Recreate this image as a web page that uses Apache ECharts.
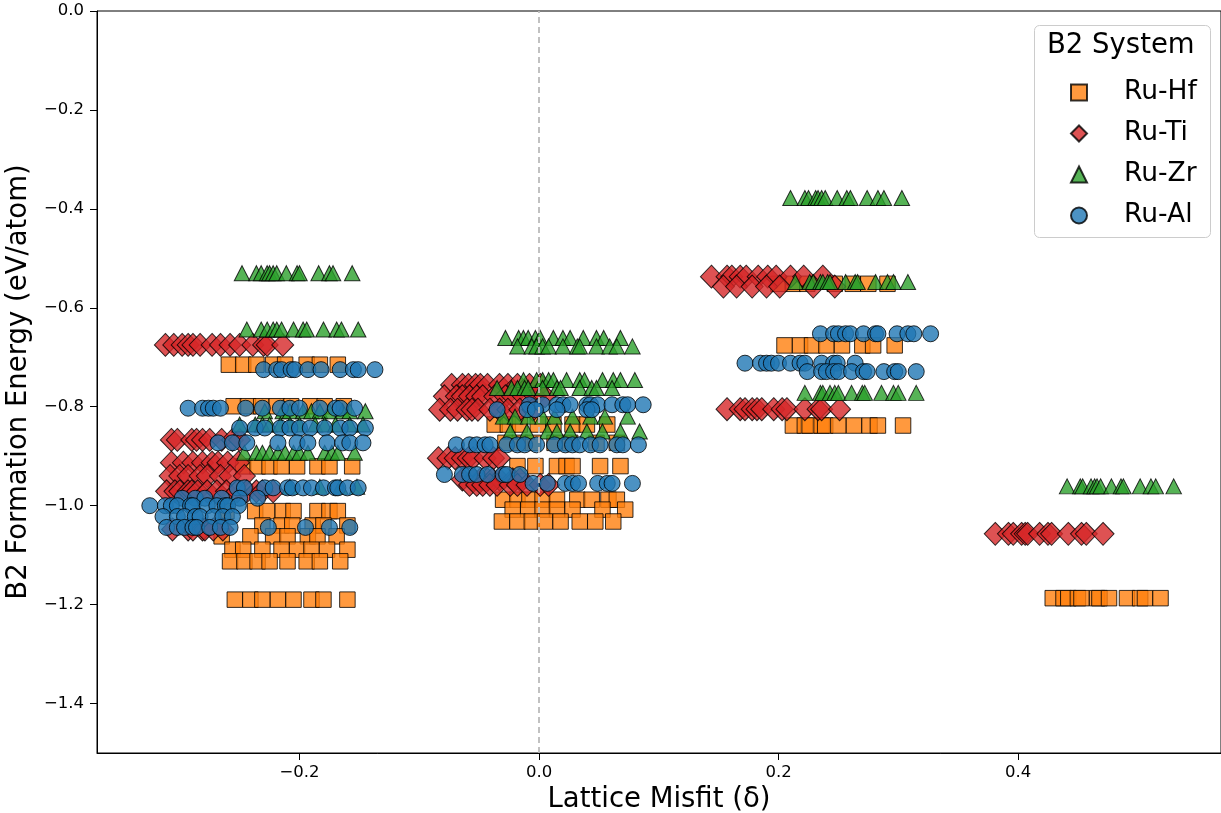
<!DOCTYPE html>
<html>
<head>
<meta charset="utf-8">
<script src="https://cdn.jsdelivr.net/npm/echarts@6/dist/echarts.min.js"></script>
<style>html,body{margin:0;padding:0;background:#fff}#c{width:1221px;height:813px}</style>
</head>
<body>
<div id="c"></div>
<script>
// Each row: [formation energy, [lattice misfits...]]
const ruHf = [
  [-0.5515, [0.200, 0.212, 0.224, 0.247, 0.262, 0.275, 0.291]],
  [-0.676, [0.205, 0.218, 0.228, 0.240, 0.253, 0.270, 0.279, 0.297]],
  [-0.838, [0.212, 0.222, 0.226, 0.236, 0.239, 0.250, 0.263, 0.276, 0.283, 0.304]],
  [-1.187, [0.429, 0.438, 0.442, 0.450, 0.453, 0.466, 0.468, 0.476, 0.491, 0.502, 0.506, 0.519]],
  [-0.715, [-0.259, -0.247, -0.236, -0.222, -0.212, -0.194, -0.183, -0.168]],
  [-0.799, [-0.255, -0.243, -0.232, -0.219, -0.207, -0.191, -0.179, -0.163]],
  [-0.9205, [-0.247, -0.235, -0.225, -0.215, -0.202, -0.185, -0.175, -0.156]],
  [-1.011, [-0.261, -0.237, -0.227, -0.214, -0.205, -0.185, -0.175, -0.168]],
  [-1.04, [-0.231, -0.215, -0.206, -0.189, -0.180, -0.160]],
  [-1.062, [-0.265, -0.241, -0.222, -0.210, -0.193, -0.185, -0.169]],
  [-1.089, [-0.256, -0.247, -0.231, -0.215, -0.202, -0.190, -0.177, -0.160]],
  [-1.1125, [-0.258, -0.246, -0.235, -0.225, -0.210, -0.194, -0.183, -0.166]],
  [-1.19, [-0.254, -0.241, -0.231, -0.218, -0.205, -0.190, -0.180, -0.160]],
  [-0.836, [-0.037, -0.026, -0.016, -0.001, 0.012, 0.028, 0.040, 0.057]],
  [-0.873, [-0.028, -0.016, -0.005, 0.013, 0.026, 0.048, 0.065]],
  [-0.92, [-0.018, -0.003, 0.015, 0.023, 0.028, 0.051, 0.068]],
  [-0.988, [-0.030, -0.018, -0.008, 0.003, 0.015, 0.032, 0.044, 0.058, 0.065]],
  [-1.008, [-0.022, -0.009, 0.003, 0.015, 0.028, 0.053, 0.072]],
  [-1.032, [-0.031, -0.018, -0.006, 0.005, 0.018, 0.034, 0.047, 0.062]]
];
const ruTi = [
  [-0.537, [0.144, 0.157, 0.161, 0.168, 0.173, 0.183, 0.191, 0.198, 0.210, 0.221, 0.237]],
  [-0.557, [0.154, 0.165, 0.178, 0.190, 0.201, 0.229, 0.247]],
  [-0.805, [0.157, 0.168, 0.172, 0.178, 0.182, 0.186, 0.196, 0.203, 0.207, 0.222, 0.233, 0.236, 0.251]],
  [-1.057, [0.381, 0.392, 0.396, 0.403, 0.406, 0.408, 0.418, 0.425, 0.428, 0.442, 0.453, 0.457, 0.471]],
  [-0.675, [-0.312, -0.305, -0.298, -0.293, -0.289, -0.283, -0.273, -0.266, -0.258, -0.250, -0.239, -0.230, -0.227, -0.214]],
  [-0.867, [-0.307, -0.302, -0.290, -0.286, -0.281, -0.275, -0.265, -0.256, -0.250]],
  [-0.913, [-0.307, -0.297, -0.289, -0.281, -0.273, -0.268, -0.260, -0.251]],
  [-0.94, [-0.308, -0.300, -0.293, -0.283, -0.277, -0.266, -0.258, -0.246]],
  [-0.971, [-0.311, -0.304, -0.300, -0.293, -0.290, -0.285, -0.277, -0.269, -0.261, -0.252, -0.244, -0.236, -0.231, -0.222]],
  [-1.048, [-0.306, -0.293, -0.289, -0.281, -0.279, -0.272, -0.264]],
  [-0.756, [-0.073, -0.064, -0.059, -0.053, -0.049, -0.043, -0.033, -0.026, -0.018, -0.008, 0.001]],
  [-0.779, [-0.079, -0.069, -0.064, -0.058, -0.052, -0.047, -0.037, -0.028, -0.022, -0.013, -0.003, 0.005]],
  [-0.806, [-0.083, -0.074, -0.068, -0.060, -0.056, -0.051, -0.041, -0.033, -0.026, -0.016, -0.005]],
  [-0.904, [-0.084, -0.076, -0.070, -0.064, -0.059, -0.055, -0.045, -0.038, -0.033]],
  [-0.947, [-0.064, -0.055, -0.049, -0.043, -0.039, -0.033, -0.022, -0.016]],
  [-0.958, [-0.058, -0.052, -0.047, -0.041, -0.035, -0.024, -0.018, -0.010, 0.001, 0.008]]
];
const ruZr = [
  [-0.378, [0.210, 0.222, 0.225, 0.231, 0.233, 0.236, 0.239, 0.249, 0.257, 0.260, 0.274, 0.283, 0.288, 0.303]],
  [-0.548, [0.214, 0.226, 0.229, 0.235, 0.237, 0.241, 0.243, 0.256, 0.264, 0.266, 0.281, 0.291, 0.296, 0.308]],
  [-0.772, [0.222, 0.235, 0.237, 0.243, 0.247, 0.250, 0.261, 0.270, 0.272, 0.286, 0.296, 0.300, 0.315]],
  [-0.961, [0.441, 0.452, 0.454, 0.461, 0.464, 0.466, 0.469, 0.478, 0.486, 0.488, 0.502, 0.511, 0.515, 0.530]],
  [-0.530, [-0.248, -0.236, -0.232, -0.227, -0.225, -0.222, -0.219, -0.211, -0.202, -0.200, -0.184, -0.175, -0.172, -0.156]],
  [-0.644, [-0.244, -0.232, -0.227, -0.222, -0.219, -0.215, -0.205, -0.197, -0.194, -0.180, -0.169, -0.165, -0.151]],
  [-0.809, [-0.229, -0.214, -0.208, -0.197, -0.190, -0.183, -0.175, -0.164, -0.158, -0.145]],
  [-0.836, [-0.250, -0.237, -0.231, -0.225, -0.216, -0.208, -0.200, -0.187, -0.179, -0.170, -0.158, -0.147]],
  [-0.893, [-0.246, -0.236, -0.231, -0.225, -0.218, -0.212, -0.205, -0.200, -0.193, -0.179, -0.173, -0.168, -0.154]],
  [-0.962, [-0.208, -0.183, -0.166, -0.152]],
  [-0.661, [-0.028, -0.017, -0.013, -0.009, -0.003, 0.001, 0.012, 0.020, 0.026, 0.037, 0.048, 0.054, 0.068]],
  [-0.678, [-0.018, -0.006, -0.002, 0.003, 0.008, 0.020, 0.032, 0.034, 0.048, 0.059, 0.065, 0.078]],
  [-0.746, [-0.013, -0.002, 0.003, 0.008, 0.012, 0.023, 0.034, 0.038, 0.053, 0.062, 0.068, 0.080]],
  [-0.762, [-0.035, -0.023, -0.018, -0.012, -0.009, 0.003, 0.015, 0.018, 0.034, 0.044, 0.048, 0.061]],
  [-0.820, [-0.030, -0.020, -0.009, 0.003, 0.013, 0.028, 0.043, 0.055, 0.074]],
  [-0.850, [-0.024, -0.010, 0.007, 0.015, 0.026, 0.040, 0.053, 0.068, 0.084]]
];
const ruAl = [
  [-0.6525, [0.235, 0.246, 0.250, 0.256, 0.260, 0.271, 0.281, 0.283, 0.299, 0.308, 0.313, 0.327]],
  [-0.712, [0.172, 0.185, 0.190, 0.194, 0.200, 0.210, 0.218, 0.222, 0.236, 0.246, 0.249, 0.264]],
  [-0.729, [0.224, 0.236, 0.240, 0.246, 0.250, 0.261, 0.271, 0.274, 0.288, 0.297, 0.300, 0.315]],
  [-0.725, [-0.230, -0.219, -0.215, -0.207, -0.204, -0.193, -0.182, -0.166, -0.155, -0.151, -0.137]],
  [-0.803, [-0.293, -0.281, -0.276, -0.272, -0.266, -0.245, -0.231, -0.216, -0.208, -0.200, -0.183, -0.170, -0.166, -0.154]],
  [-0.843, [-0.250, -0.237, -0.229, -0.216, -0.208, -0.200, -0.191, -0.179, -0.166, -0.158, -0.145]],
  [-0.873, [-0.268, -0.256, -0.244, -0.218, -0.202, -0.193, -0.177, -0.164, -0.158, -0.147]],
  [-0.964, [-0.252, -0.246, -0.229, -0.222, -0.210, -0.206, -0.197, -0.190, -0.180, -0.170, -0.168, -0.160, -0.151]],
  [-0.985, [-0.298, -0.287, -0.279, -0.265, -0.250, -0.235]],
  [-1.0, [-0.325, -0.312, -0.307, -0.302, -0.291, -0.289, -0.277, -0.269, -0.262, -0.260, -0.251]],
  [-1.022, [-0.314, -0.302, -0.296, -0.287, -0.283, -0.272, -0.264, -0.256]],
  [-1.044, [-0.311, -0.302, -0.296, -0.289, -0.286, -0.275, -0.266, -0.258, -0.226, -0.195, -0.175, -0.158]],
  [-0.796, [-0.008, 0.003, 0.015, 0.020, 0.026, 0.040, 0.043, 0.049, 0.061, 0.070, 0.074, 0.087]],
  [-0.806, [-0.035, -0.010, -0.003, 0.015, 0.040, 0.044]],
  [-0.877, [-0.069, -0.058, -0.052, -0.045, -0.041, -0.027, -0.018, -0.012, -0.002, 0.013, 0.022, 0.028, 0.034, 0.043, 0.051, 0.065, 0.070, 0.083]],
  [-0.937, [-0.079, -0.064, -0.058, -0.052, -0.043, -0.030, -0.027, -0.016]],
  [-0.955, [-0.005, 0.007, 0.022, 0.028, 0.033, 0.049, 0.057, 0.061, 0.078]]
];
const seriesNames = ['Ru-Hf', 'Ru-Ti', 'Ru-Zr', 'Ru-Al'];
const xTicks = [-0.2, 0.0, 0.2, 0.4];
const yTicks = [0.0, -0.2, -0.4, -0.6, -0.8, -1.0, -1.2, -1.4];

function flat(rows) {
  const out = [];
  rows.forEach(r => r[1].forEach(x => out.push([x, r[0]])));
  return out;
}
const fmt = v => (Math.abs(v) < 1e-9 ? '0.0' : v.toFixed(1).replace('-', '\u2212'));
const FONT = 'DejaVu Sans';

const styles = [
  { symbol: 'rect', size: 15.5, color: '#ff7f0e' },
  { symbol: 'diamond', size: [22, 23], color: '#d62728' },
  { symbol: 'triangle', size: [15.5, 15], color: '#2ca02c' },
  { symbol: 'circle', size: 16, color: '#1f77b4' }
];
const datasets = [ruHf, ruTi, ruZr, ruAl];

const series = datasets.map((rows, i) => ({
  name: seriesNames[i],
  type: 'scatter',
  data: flat(rows),
  symbol: styles[i].symbol,
  symbolSize: styles[i].size,
  z: 3,
  itemStyle: { color: styles[i].color, opacity: 0.8, borderColor: '#000', borderWidth: 1 },
  emphasis: { disabled: true }
}));
series.unshift({
  type: 'scatter', data: [], z: 1, silent: true,
  markLine: {
    silent: true, symbol: 'none', label: { show: false },
    lineStyle: { color: '#bbbbbb', type: [6, 4], width: 1.8 },
    data: [{ xAxis: 0 }]
  }
});

const chart = echarts.init(document.getElementById('c'), null, { renderer: 'canvas' });
chart.setOption({
  animation: false,
  backgroundColor: '#fff',
  grid: { left: 97, right: 0, top: 11, bottom: 60, containLabel: false, outerBoundsMode: 'none',
          show: true, borderColor: '#000', borderWidth: 1, backgroundColor: 'transparent' },
  xAxis: {
    type: 'value', min: -0.3691, max: 0.5695,
    name: 'Lattice Misfit (\u03B4)', nameLocation: 'middle', nameGap: 33,
    nameTextStyle: { fontFamily: FONT, fontSize: 27.5, color: '#000' },
    axisLine: { show: true, onZero: false, lineStyle: { color: '#000', width: 1 } },
    axisTick: { show: true, length: 7, customValues: xTicks, lineStyle: { color: '#000' } },
    axisLabel: { customValues: xTicks, formatter: fmt, fontFamily: FONT, fontSize: 16.5, color: '#000', margin: 11 },
    splitLine: { show: false }
  },
  yAxis: {
    type: 'value', min: -1.5, max: 0,
    name: 'B2 Formation Energy (eV/atom)', nameLocation: 'middle', nameGap: 61,
    nameTextStyle: { fontFamily: FONT, fontSize: 27.5, color: '#000' },
    axisLine: { show: true, onZero: false, lineStyle: { color: '#000', width: 1 } },
    axisTick: { show: true, length: 7, customValues: yTicks, lineStyle: { color: '#000' } },
    axisLabel: { customValues: yTicks, formatter: fmt, fontFamily: FONT, fontSize: 16.5, color: '#000', margin: 13 },
    splitLine: { show: false }
  },
  legend: {
    orient: 'vertical', left: 1065, top: 74,
    itemWidth: 16, itemHeight: 16, itemGap: 14,
    data: seriesNames,
    textStyle: { fontFamily: FONT, fontSize: 26.5, color: '#000', padding: [0, 0, 0, 32] },
    selectedMode: false
  },
  graphic: [
    { type: 'rect', left: 1034, top: 25, z: 0, shape: { width: 176, height: 212, r: 5 },
      style: { fill: 'rgba(255,255,255,0.8)', stroke: '#cccccc', lineWidth: 1 } },
    { type: 'text', left: 1047, top: 32, z: 10,
      style: { text: 'B2 System', font: '27.5px "DejaVu Sans"', fill: '#000' } }
  ],
  series: series
});
</script>
</body>
</html>
